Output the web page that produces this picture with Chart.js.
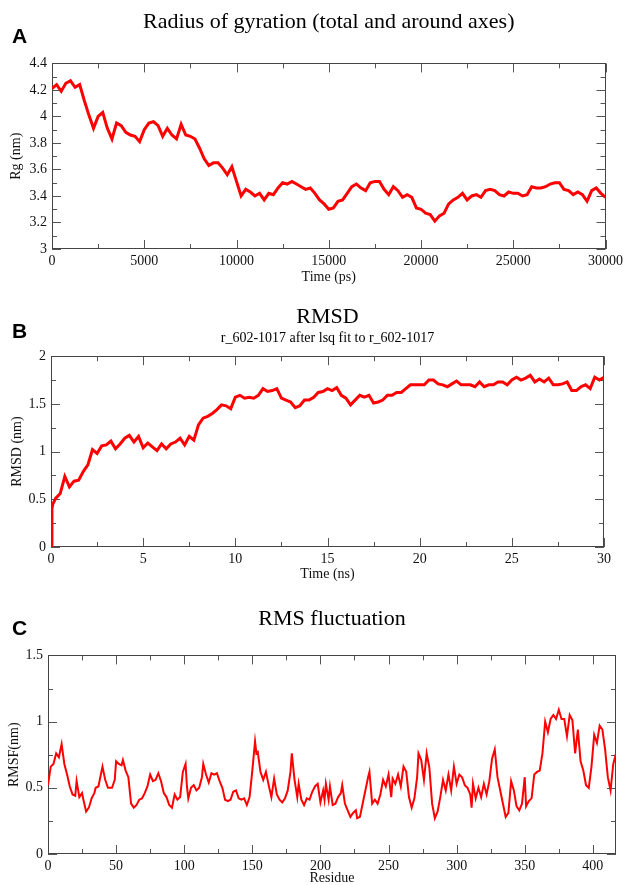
<!DOCTYPE html>
<html>
<head>
<meta charset="utf-8">
<script src="https://cdn.jsdelivr.net/npm/chart.js@4.4.1/dist/chart.umd.min.js"></script>
<style>
  html, body { margin: 0; padding: 0; background: #fff; width: 627px; height: 885px; overflow: hidden; }
  .panel { position: absolute; left: 0; width: 627px; }
  #panelA { top: 0; height: 290px; }
  #panelB { top: 290px; height: 300px; }
  #panelC { top: 590px; height: 300px; }
  .letter { position: absolute; left: 12px; font: bold 21px 'Liberation Sans', Arial, sans-serif; line-height: 21px; color: #000; }
</style>
</head>
<body>
<div class="panel" id="panelA"><canvas id="graficaRg" width="627" height="290"></canvas></div>
<div class="panel" id="panelB"><canvas id="graficaRmsd" width="627" height="300"></canvas></div>
<div class="panel" id="panelC"><canvas id="graficaRmsf" width="627" height="300"></canvas></div>
<div class="letter" style="top:25px">A</div>
<div class="letter" style="top:320px">B</div>
<div class="letter" style="top:617px">C</div>

<script>
/* A - radius of gyration, time in ps */
const rgTime = [
  0, 250, 500, 750, 1000, 1250, 1500, 1750, 2000, 2250, 2500, 2750, 3000, 3250, 3500, 3750,
  4000, 4250, 4500, 4750, 5000, 5250, 5500, 5750, 6000, 6250, 6500, 6750, 7000, 7250, 7500, 7750,
  8000, 8250, 8500, 8750, 9000, 9250, 9500, 9750, 10000, 10250, 10500, 10750, 11000, 11250, 11500, 11750,
  12000, 12250, 12500, 12750, 13000, 13250, 13500, 13750, 14000, 14250, 14500, 14750, 15000, 15250, 15500, 15750,
  16000, 16250, 16500, 16750, 17000, 17250, 17500, 17750, 18000, 18250, 18500, 18750, 19000, 19250, 19500, 19750,
  20000, 20250, 20500, 20750, 21000, 21250, 21500, 21750, 22000, 22250, 22500, 22750, 23000, 23250, 23500, 23750,
  24000, 24250, 24500, 24750, 25000, 25250, 25500, 25750, 26000, 26250, 26500, 26750, 27000, 27250, 27500, 27750,
  28000, 28250, 28500, 28750, 29000, 29250, 29500, 29750, 30000
];
const rgValues = [
  4.21, 4.24, 4.19, 4.25, 4.27, 4.22, 4.24, 4.12, 4.01, 3.91, 4.00, 4.03, 3.91, 3.83, 3.95, 3.93,
  3.88, 3.86, 3.85, 3.81, 3.90, 3.95, 3.96, 3.93, 3.85, 3.91, 3.86, 3.83, 3.94, 3.86, 3.85, 3.83,
  3.76, 3.68, 3.63, 3.65, 3.65, 3.61, 3.56, 3.62, 3.51, 3.40, 3.45, 3.43, 3.40, 3.42, 3.37, 3.42,
  3.41, 3.46, 3.50, 3.49, 3.51, 3.49, 3.47, 3.45, 3.46, 3.42, 3.37, 3.34, 3.30, 3.31, 3.36, 3.37,
  3.42, 3.47, 3.49, 3.46, 3.44, 3.50, 3.51, 3.51, 3.45, 3.41, 3.47, 3.44, 3.39, 3.41, 3.39, 3.31,
  3.30, 3.27, 3.26, 3.21, 3.25, 3.27, 3.34, 3.37, 3.39, 3.42, 3.37, 3.40, 3.41, 3.39, 3.44, 3.45,
  3.44, 3.41, 3.40, 3.43, 3.42, 3.42, 3.40, 3.41, 3.47, 3.46, 3.46, 3.47, 3.49, 3.50, 3.50, 3.45,
  3.44, 3.41, 3.43, 3.41, 3.36, 3.44, 3.46, 3.42, 3.39
];

/* B - RMSD, time in ns */
const rmsdTime = [
  0, 0.05, 0.1, 0.25, 0.5, 0.75, 1, 1.25, 1.5, 1.75, 2, 2.25, 2.5, 2.75, 3, 3.25, 3.5, 3.75,
  4, 4.25, 4.5, 4.75, 5, 5.25, 5.5, 5.75, 6, 6.25, 6.5, 6.75, 7, 7.25, 7.5, 7.75,
  8, 8.25, 8.5, 8.75, 9, 9.25, 9.5, 9.75, 10, 10.25, 10.5, 10.75, 11, 11.25, 11.5, 11.75,
  12, 12.25, 12.5, 12.75, 13, 13.25, 13.5, 13.75, 14, 14.25, 14.5, 14.75, 15, 15.25, 15.5, 15.75,
  16, 16.25, 16.5, 16.75, 17, 17.25, 17.5, 17.75, 18, 18.25, 18.5, 18.75, 19, 19.25, 19.5, 19.75,
  20, 20.25, 20.5, 20.75, 21, 21.25, 21.5, 21.75, 22, 22.25, 22.5, 22.75, 23, 23.25, 23.5, 23.75,
  24, 24.25, 24.5, 24.75, 25, 25.25, 25.5, 25.75, 26, 26.25, 26.5, 26.75, 27, 27.25, 27.5, 27.75,
  28, 28.25, 28.5, 28.75, 29, 29.25, 29.5, 29.75, 30
];
const rmsdValues = [
  0, 0.40, 0.45, 0.51, 0.56, 0.74, 0.63, 0.69, 0.70, 0.79, 0.86, 1.02, 0.98, 1.06, 1.07, 1.11, 1.03, 1.08,
  1.14, 1.17, 1.10, 1.16, 1.04, 1.09, 1.05, 1.01, 1.08, 1.03, 1.08, 1.10, 1.14, 1.07, 1.16, 1.12,
  1.28, 1.35, 1.37, 1.40, 1.44, 1.49, 1.48, 1.45, 1.57, 1.59, 1.56, 1.57, 1.56, 1.59, 1.66, 1.63,
  1.64, 1.66, 1.56, 1.54, 1.52, 1.46, 1.48, 1.54, 1.54, 1.57, 1.62, 1.63, 1.66, 1.64, 1.67, 1.59,
  1.56, 1.49, 1.54, 1.59, 1.57, 1.59, 1.51, 1.52, 1.54, 1.59, 1.59, 1.62, 1.62, 1.66, 1.70, 1.70,
  1.70, 1.70, 1.75, 1.75, 1.71, 1.70, 1.68, 1.71, 1.74, 1.70, 1.70, 1.70, 1.68, 1.73, 1.68, 1.70,
  1.70, 1.73, 1.73, 1.70, 1.75, 1.78, 1.75, 1.77, 1.80, 1.73, 1.76, 1.73, 1.77, 1.70, 1.70, 1.71,
  1.73, 1.64, 1.64, 1.68, 1.70, 1.66, 1.78, 1.75, 1.78
];

/* C - RMS fluctuation per residue */
const rmsfResidue = [
  0, 2, 4, 6, 8, 9, 10, 12, 14, 16, 18, 20, 21, 23, 25, 26, 28, 30, 32, 34, 35, 37, 39, 40, 42, 44, 47, 49,
  50, 52, 54, 55, 57, 59, 61, 63, 65, 67, 69, 71, 73, 75, 77, 79, 81, 83, 85, 87, 89, 91, 93, 95, 97, 99,
  101, 102, 103, 105, 107, 109, 111, 113, 114, 116, 118, 120, 122, 124, 126, 128, 130, 132, 134, 136, 138,
  140, 142, 144, 146, 148, 150, 152, 153, 154, 156, 158, 160, 162, 164, 166, 168, 170, 172, 174, 176, 178,
  179, 181, 183, 184, 186, 188, 190, 192, 194, 196, 198, 200, 202, 203, 204, 206, 207, 209, 211, 213, 215,
  216, 218, 220, 222, 224, 226, 227, 229, 231, 233, 235, 236, 238, 240, 242, 244, 246, 248, 250, 252, 253,
  255, 257, 259, 261, 263, 265, 267, 269, 271, 272, 274, 276, 278, 280, 282, 284, 286, 288, 290, 292, 294,
  296, 298, 300, 302, 304, 306, 308, 310, 311, 312, 314, 316, 318, 320, 322, 324, 326, 328, 330, 332, 334,
  336, 338, 340, 342, 344, 346, 348, 350, 351, 353, 355, 357, 359, 361, 363, 365, 367, 369, 371, 373, 375,
  377, 379, 381, 383, 385, 387, 389, 391, 393, 395, 397, 399, 401, 403, 405, 407, 409, 411, 413, 415, 417
];
const rmsfValues = [
  0.52, 0.66, 0.68, 0.76, 0.73, 0.78, 0.83, 0.68, 0.60, 0.51, 0.45, 0.44, 0.55, 0.43, 0.46, 0.41, 0.32, 0.35,
  0.42, 0.46, 0.50, 0.51, 0.61, 0.66, 0.56, 0.50, 0.50, 0.56,
  0.70, 0.68, 0.67, 0.71, 0.63, 0.58, 0.38, 0.35, 0.37, 0.41, 0.42, 0.46, 0.51, 0.60, 0.55, 0.56, 0.61, 0.55,
  0.46, 0.43, 0.37, 0.35, 0.45, 0.41, 0.43, 0.62,
  0.68, 0.51, 0.42, 0.50, 0.52, 0.48, 0.50, 0.58, 0.68, 0.60, 0.54, 0.61, 0.60, 0.61, 0.55, 0.50, 0.41, 0.40,
  0.41, 0.47, 0.48,
  0.42, 0.41, 0.42, 0.37, 0.43, 0.63, 0.85, 0.76, 0.77, 0.62, 0.56, 0.62, 0.52, 0.43, 0.57, 0.45, 0.41, 0.39,
  0.42, 0.48, 0.62,
  0.76, 0.56, 0.43, 0.53, 0.41, 0.37, 0.42, 0.41, 0.47, 0.51, 0.53, 0.39, 0.48, 0.41, 0.53, 0.41, 0.51, 0.37,
  0.38, 0.43, 0.46,
  0.52, 0.38, 0.33, 0.28, 0.31, 0.33, 0.27, 0.28, 0.38, 0.48, 0.58, 0.62, 0.38, 0.41, 0.38, 0.45, 0.56, 0.51,
  0.60, 0.43, 0.57,
  0.53, 0.60, 0.51, 0.66, 0.62, 0.43, 0.35, 0.42, 0.58, 0.76, 0.71, 0.56, 0.76, 0.65, 0.38, 0.27, 0.32, 0.43,
  0.56, 0.48, 0.60,
  0.48, 0.66, 0.53, 0.60, 0.58, 0.52, 0.50, 0.45, 0.35, 0.53, 0.42, 0.50, 0.43, 0.53, 0.45, 0.55, 0.72, 0.79,
  0.58, 0.48, 0.38,
  0.28, 0.31, 0.55, 0.48, 0.36, 0.33, 0.38, 0.58, 0.36, 0.40, 0.42, 0.60, 0.62, 0.63, 0.76, 1.00, 0.92, 1.02,
  1.05, 1.02, 1.09,
  1.02, 1.02, 0.89, 1.05, 1.01, 0.76, 0.94, 0.70, 0.63, 0.52, 0.50, 0.66, 0.90, 0.84, 0.97, 0.94, 0.79, 0.58,
  0.48, 0.68, 0.76
];

Chart.defaults.font.family = "'Liberation Serif', 'DejaVu Serif', serif";
Chart.defaults.color = '#111';

// xmgrace style frame with inward ticks on all four sides
const frameTicks = {
  id: 'frameTicks',
  beforeDatasetsDraw(chart) {
    const { ctx, chartArea: a, scales: { x, y } } = chart;
    ctx.save();
    ctx.strokeStyle = '#555';
    ctx.lineWidth = 1;
    ctx.beginPath();
    x.ticks.forEach(t => {
      const px = Math.round(x.getPixelForValue(t.value)) + 0.5;
      const len = t.label !== '' ? 9 : 5;
      ctx.moveTo(px, a.bottom); ctx.lineTo(px, a.bottom - len);
      ctx.moveTo(px, a.top); ctx.lineTo(px, a.top + len);
    });
    y.ticks.forEach(t => {
      const py = Math.round(y.getPixelForValue(t.value)) + 0.5;
      const len = t.label !== '' ? 9 : 5;
      ctx.moveTo(a.left, py); ctx.lineTo(a.left + len, py);
      ctx.moveTo(a.right, py); ctx.lineTo(a.right - len, py);
    });
    ctx.stroke();
    ctx.strokeStyle = '#444';
    ctx.strokeRect(Math.round(a.left) + 0.5, Math.round(a.top) + 0.5, Math.round(a.width) - 1, Math.round(a.height) - 1);
    ctx.restore();
  }
};

// only every second tick carries a label
const everyOther = (major, digits) => value => {
  const r = Math.round(value / major * 1000) / 1000;
  return Number.isInteger(r) ? String(Number(value.toFixed(digits))) : '';
};

function panel(id, xs, ys, o) {
  const ctx = document.getElementById(id).getContext('2d');
  new Chart(ctx, {
    type: 'line',
    data: {
      datasets: [{
        data: xs.map((v, i) => ({ x: v, y: ys[i] })),
        borderColor: '#ff0000',
        borderWidth: o.lineWidth,
        pointRadius: 0,
        tension: 0,
        fill: false
      }]
    },
    options: {
      responsive: false,
      animation: false,
      layout: { padding: { left: 0, right: o.padRight, top: 0, bottom: 0 } },
      plugins: {
        legend: { display: false },
        tooltip: { enabled: false },
        title: {
          display: true,
          text: o.title,
          fullSize: false,
          color: '#000',
          font: { size: 22, weight: 'normal' },
          padding: o.titlePad
        },
        subtitle: {
          display: !!o.subtitle,
          text: o.subtitle || '',
          fullSize: false,
          color: '#000',
          font: { size: 14 },
          padding: { top: 0, bottom: 9 }
        }
      },
      scales: {
        x: {
          type: 'linear',
          min: o.xMin, max: o.xMax,
          grid: { display: false, drawTicks: false },
          border: { display: false },
          ticks: {
            stepSize: o.xStep,
            includeBounds: false,
            autoSkip: false,
            maxRotation: 0,
            padding: 4,
            color: '#111',
            font: { size: 14 },
            callback: everyOther(o.xStep * 2, 2)
          },
          title: {
            display: true,
            text: o.xTitle,
            color: '#111',
            font: { size: 14 },
            padding: { top: 0, bottom: o.xTitlePad }
          },
          afterFit: s => { s.height = o.xHeight; }
        },
        y: {
          min: o.yMin, max: o.yMax,
          grid: { display: false, drawTicks: false },
          border: { display: false },
          ticks: {
            stepSize: o.yStep,
            autoSkip: false,
            padding: 5,
            color: '#111',
            font: { size: 14 },
            callback: everyOther(o.yStep * 2, 2)
          },
          title: {
            display: true,
            text: o.yTitle,
            color: '#111',
            font: { size: 14 },
            padding: { top: o.yTitlePad, bottom: 0 }
          },
          afterFit: s => { s.width = o.yWidth; }
        }
      }
    },
    plugins: [frameTicks]
  });
}

panel('graficaRg', rgTime, rgValues, {
  title: 'Radius of gyration (total and around axes)',
  titlePad: { top: 9, bottom: 28 },
  xMin: 0, xMax: 30000, xStep: 2500, xTitle: 'Time (ps)', xHeight: 41, xTitlePad: 4,
  yMin: 3, yMax: 4.4, yStep: 0.1, yTitle: 'Rg (nm)', yWidth: 52, yTitlePad: 8,
  padRight: 21, lineWidth: 3
});

panel('graficaRmsd', rmsdTime, rmsdValues, {
  title: 'RMSD',
  subtitle: 'r_602-1017 after lsq fit to r_602-1017',
  titlePad: { top: 14, bottom: 0 },
  xMin: 0, xMax: 30, xStep: 2.5, xTitle: 'Time (ns)', xHeight: 43, xTitlePad: 7,
  yMin: 0, yMax: 2, yStep: 0.25, yTitle: 'RMSD (nm)', yWidth: 51, yTitlePad: 9,
  padRight: 23, lineWidth: 3
});

panel('graficaRmsf', rmsfResidue, rmsfValues, {
  title: 'RMS fluctuation',
  titlePad: { top: 16, bottom: 23 },
  xMin: 0, xMax: 417, xStep: 25, xTitle: 'Residue', xHeight: 36, xTitlePad: 3,
  yMin: 0, yMax: 1.5, yStep: 0.25, yTitle: 'RMSF(nm)', yWidth: 48, yTitlePad: 6,
  padRight: 11, lineWidth: 2
});
</script>
</body>
</html>
